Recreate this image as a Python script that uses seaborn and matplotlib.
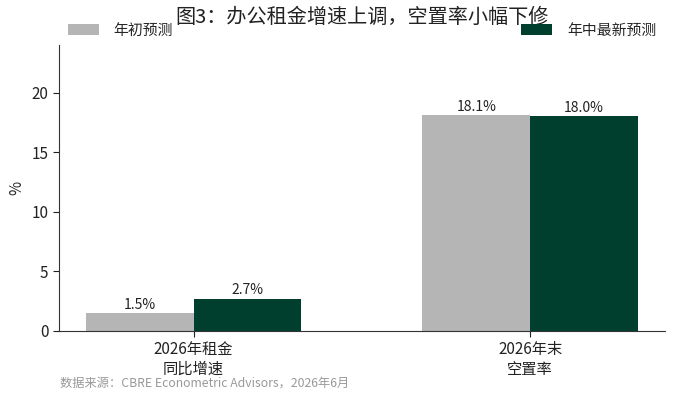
import pandas as pd
import matplotlib
matplotlib.use('Agg')
import matplotlib.pyplot as plt
import seaborn as sns

# --- data ---
categories = ['2026年租金\n同比增速', '2026年末\n空置率']
series_names = ['年初预测', '年中最新预测']
early_forecast = [1.5, 18.1]
mid_forecast = [2.7, 18.0]

df = pd.DataFrame({
    'category': categories * 2,
    'series': [series_names[0]] * 2 + [series_names[1]] * 2,
    'value': early_forecast + mid_forecast,
})

sns.set_style('ticks')
plt.rcParams['font.family'] = ['Noto Sans CJK SC', 'DejaVu Sans']
plt.rcParams['axes.unicode_minus'] = False

fig = plt.figure(figsize=(6.77, 4.13), dpi=100)
ax = fig.add_axes([0.087, 0.199, 0.895, 0.692])

palette = {series_names[0]: '#b5b5b5', series_names[1]: '#003f2d'}
sns.barplot(data=df, x='category', y='value', hue='series', palette=palette,
            width=0.64, saturation=1, ax=ax, linewidth=0)

for cont in ax.containers:
    ax.bar_label(cont, fmt='%.1f%%', fontsize=10, padding=1, color='#222222')

ax.set_xlim(-0.4, 1.4)
ax.set_ylim(0, 24)
ax.set_yticks([0, 5, 10, 15, 20])
ax.set_xlabel('')
ax.set_ylabel('%', fontsize=11)
ax.yaxis.set_label_coords(-0.055, 0.5)
ax.tick_params(axis='both', labelsize=11, colors='#222222', length=4)
sns.despine(ax=ax)
for s in ['left', 'bottom']:
    ax.spines[s].set_color('#333333')

# legend split into two ends
handles, labels = ax.get_legend_handles_labels()
ax.get_legend().remove()
fig.legend([handles[0]], [labels[0]], loc='center left', bbox_to_anchor=(0.08, 0.925),
           frameon=False, fontsize=10.7, handlelength=2.1, handleheight=0.8, handletextpad=1.0)
fig.legend([handles[1]], [labels[1]], loc='center left', bbox_to_anchor=(0.75, 0.925),
           frameon=False, fontsize=10.7, handlelength=2.1, handleheight=0.8, handletextpad=1.0)

fig.text(0.535, 0.958, '图3：办公租金增速上调，空置率小幅下修', ha='center', va='center',
         fontsize=14.5, color='#222222')
fig.text(0.088, 0.072, '数据来源：CBRE Econometric Advisors，2026年6月', ha='left', va='center',
         fontsize=8.8, color='#999999')

fig.savefig('out.png', dpi=100)
